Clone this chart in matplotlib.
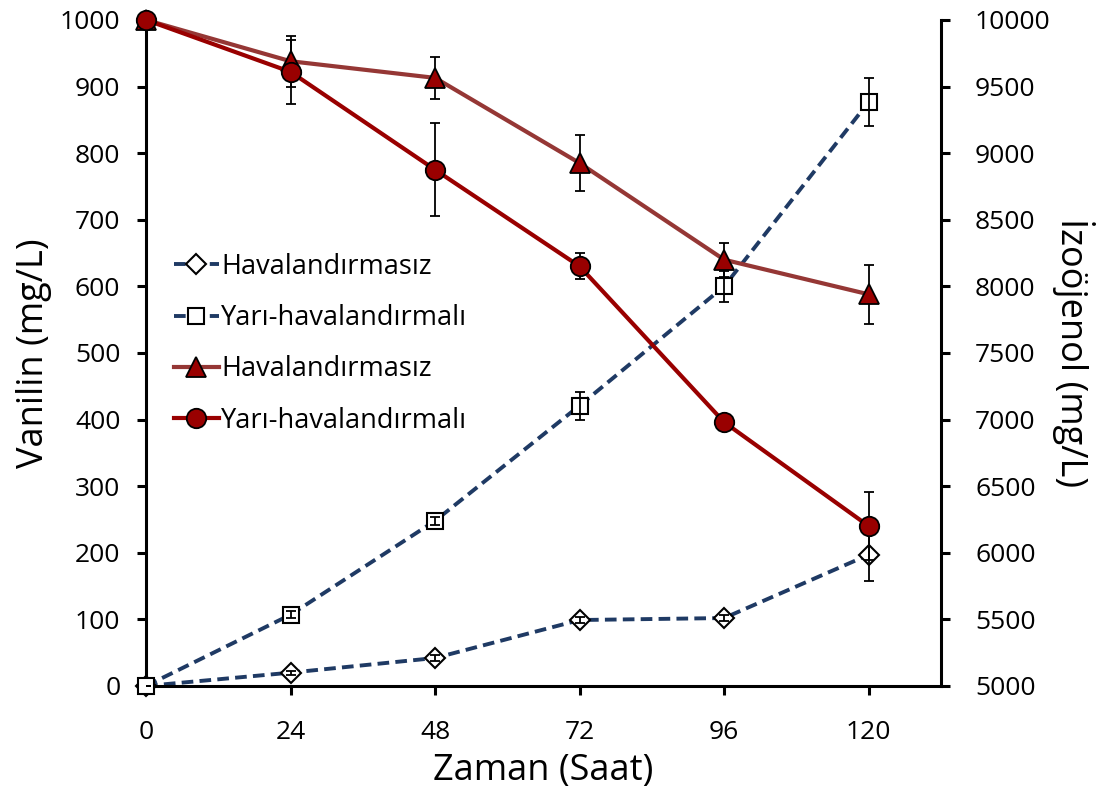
import numpy as np
import matplotlib.pyplot as plt
from matplotlib.lines import Line2D

plt.rcParams['font.family'] = ['Open Sans', 'DejaVu Sans']

# time (hours)
saat = [0, 24, 48, 72, 96, 120]

# vanilin (mg/L), left axis
van_hava = [0, 20, 42, 99, 102, 197]
van_hava_err = [0, 3, 4, 4, 4, 40]
van_yari = [0, 107, 248, 421, 600, 877]
van_yari_err = [0, 5, 6, 21, 23, 36]

# izoojenol (mg/L), right axis
izo_hava = [10000, 9690, 9565, 8925, 8200, 7940]
izo_hava_err = [0, 193, 158, 210, 128, 223]
izo_yari = [10000, 9610, 8875, 8150, 6980, 6200]
izo_yari_err = [0, 240, 350, 98, 20, 255]

labels = ["Havalandırmasız", "Yarı-havalandırmalı"]

mavi = "#1f3a64"
kirmizi1 = "#953735"
kirmizi2 = "#990000"
dash = (0, (3, 1.6))

fig = plt.figure(figsize=(11.09, 7.98), dpi=100)
ax = fig.add_axes([0.1317, 0.1404, 0.7168, 0.8346])
ax2 = ax.twinx()

# blue dashed (vanilin)
ax.plot(saat, van_hava, color=mavi, lw=2.8, linestyle=dash, zorder=2)
ax.plot(saat, van_yari, color=mavi, lw=2.8, linestyle=dash, zorder=2)
ax.plot(saat, van_hava, linestyle="none", marker="D", ms=10, mfc="white", mec="black",
        mew=1.5, zorder=3, clip_on=False)
ax.plot(saat, van_yari, linestyle="none", marker="s", ms=12, mfc="white", mec="black",
        mew=1.5, zorder=3, clip_on=False)
ax.errorbar(saat, van_hava, yerr=van_hava_err, fmt="none", ecolor="black", elinewidth=1.3,
            capsize=3.5, capthick=1.3, zorder=4)
ax.errorbar(saat, van_yari, yerr=van_yari_err, fmt="none", ecolor="black", elinewidth=1.3,
            capsize=3.5, capthick=1.3, zorder=4)

# red solid (izoojenol)
ax2.errorbar(saat, izo_hava, yerr=izo_hava_err, fmt="none", ecolor="black", elinewidth=1.3,
             capsize=3.5, capthick=1.3, zorder=2)
ax2.errorbar(saat, izo_yari, yerr=izo_yari_err, fmt="none", ecolor="black", elinewidth=1.3,
             capsize=3.5, capthick=1.3, zorder=2)
ax2.plot(saat, izo_hava, color=kirmizi1, lw=3, marker="^", ms=14, mfc=kirmizi2, mec="black",
         mew=1.3, zorder=3, clip_on=False)
ax2.plot(saat, izo_yari, color=kirmizi2, lw=3, marker="o", ms=14, mfc=kirmizi2, mec="black",
         mew=1.3, zorder=3, clip_on=False)

ax.set_xlim(0, 132)
ax.set_ylim(0, 1000)
ax2.set_ylim(5000, 10000)
ax.set_xticks([0, 24, 48, 72, 96, 120])
ax.set_yticks(np.arange(0, 1001, 100))
ax2.set_yticks(np.arange(5000, 10001, 500))

for a in (ax, ax2):
    for s in a.spines.values():
        s.set_linewidth(2.2)
    a.spines["top"].set_visible(False)
    a.tick_params(width=2.2, length=6.5, labelsize=19, direction="out", pad=7)
ax.spines["right"].set_visible(False)
ax2.spines["left"].set_visible(False)
ax2.spines["bottom"].set_visible(False)
ax.tick_params(axis="x", pad=18)
ax.tick_params(axis="y", pad=12)
ax2.tick_params(axis="y", pad=18)

ax.set_xlabel("Zaman (Saat)", fontsize=26, labelpad=6)
ax.set_ylabel("Vanilin (mg/L)", fontsize=26, labelpad=6)
ax2.set_ylabel("İzoöjenol (mg/L)", fontsize=26, rotation=270, labelpad=32)

handles = [
    Line2D([], [], color=mavi, lw=2.8, linestyle=dash, marker="D", ms=10, mfc="white", mec="black", mew=1.5),
    Line2D([], [], color=mavi, lw=2.8, linestyle=dash, marker="s", ms=12, mfc="white", mec="black", mew=1.5),
    Line2D([], [], color=kirmizi1, lw=3, marker="^", ms=14, mfc=kirmizi2, mec="black", mew=1.3),
    Line2D([], [], color=kirmizi2, lw=3, marker="o", ms=14, mfc=kirmizi2, mec="black", mew=1.3),
]
ax2.legend(handles, labels + labels, loc="center left", bbox_to_anchor=(0.021, 0.514),
           borderaxespad=0, frameon=False, fontsize=19.5, handlelength=1.66,
           handletextpad=0.09, labelspacing=0.86)

fig.savefig("out.png", dpi=100)
